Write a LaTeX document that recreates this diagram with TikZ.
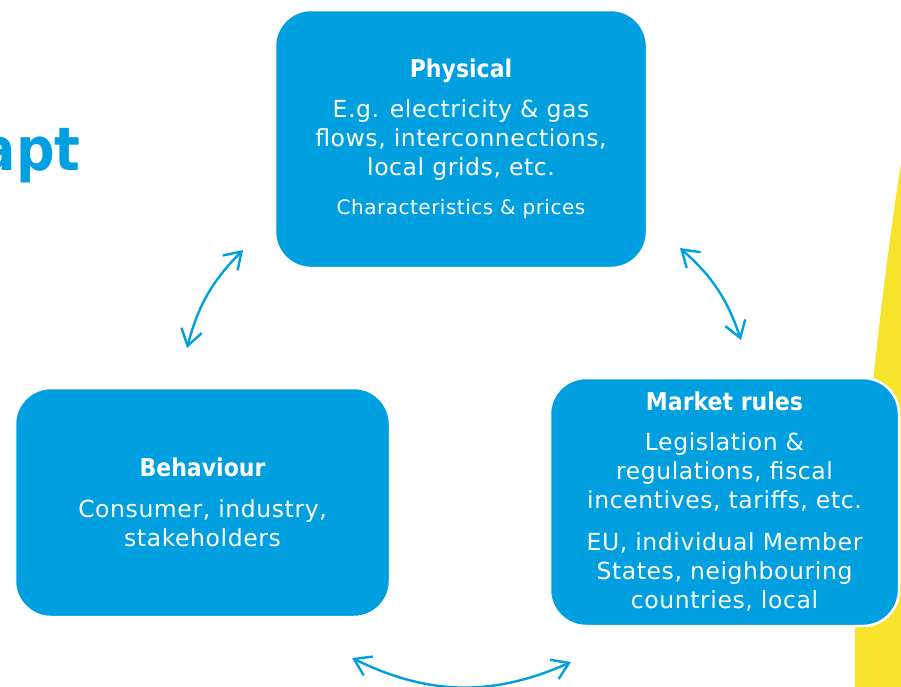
\documentclass[tikz,border=0pt]{standalone}
\usepackage{fontspec}
\setmainfont{DejaVu Sans}[LetterSpace=2.5]
\newfontfamily\headfont{DejaVu Sans Condensed}
\usetikzlibrary{arrows.meta}
\definecolor{euBlue}{HTML}{009FE0}
\definecolor{euYellow}{HTML}{F6E32B}
\tikzstyle{myBox} = [rectangle, rounded corners=36pt, fill=euBlue, draw=white, line width=2.5pt, text=white, align=center, inner sep=0pt, font=\fontsize{23.5}{29}\selectfont]
\tikzstyle{link} = [euBlue, line width=2.4pt, {Straight Barb[length=16pt,width=21pt]}-{Straight Barb[length=16pt,width=21pt]}]
\newcommand{\boxhead}[1]{{\headfont\bfseries\fontsize{24.5}{29}\selectfont #1}}
\newcommand{\boxnote}[1]{{\fontsize{20}{24}\selectfont #1}}

\begin{document}
\begin{tikzpicture}[x=1pt,y=-1pt]
		\useasboundingbox (0,0) rectangle (901,686);
		% yellow band at the right edge
		\fill[euYellow] (903,150) .. controls (884,270) and (860,470) .. (855,630) -- (855,690) -- (903,690) -- cycle;
		% title, running off the left edge
		\node[anchor=base east, text=euBlue, inner sep=0pt, font=\headfont\bfseries\fontsize{60}{60}\selectfont] (title) at (81,170) {apt};
		
		\node [myBox, minimum width=372pt, minimum height=258pt](phys) at (461,139){\boxhead{Physical}\\[11pt]
			E.g. electricity \& gas\\ flows, interconnections,\\ local grids, etc.\\[10pt]
			\boxnote{Characteristics \& prices}};
		\node [myBox, minimum width=375pt, minimum height=229pt](beh) at (202.5,502.5){\boxhead{Behaviour}\\[12pt]
			Consumer, industry,\\ stakeholders};
		\node [myBox, minimum width=349pt, minimum height=248pt](mkt) at (724.5,502){\boxhead{Market rules}\\[11pt]
			Legislation \&\\ regulations, fiscal\\ incentives, tariffs, etc.\\[13pt]
			EU, individual Member\\ States, neighbouring\\ countries, local};
		
		% arrow ends
		\coordinate (behTop) at (187,348);
		\coordinate (physLeft) at (243,250);
		\coordinate (physRight) at (680,248);
		\coordinate (mktTop) at (741,340);
		\coordinate (behRight) at (352,658);
		\coordinate (mktLeft) at (571,662);
		
		\draw[link] (behTop) to[bend left=15] (physLeft);
		\draw[link] (physRight) to[bend left=15] (mktTop);
		\draw[link] (behRight) to[bend right=25] (mktLeft);
		
		\end{tikzpicture}
\end{document}
